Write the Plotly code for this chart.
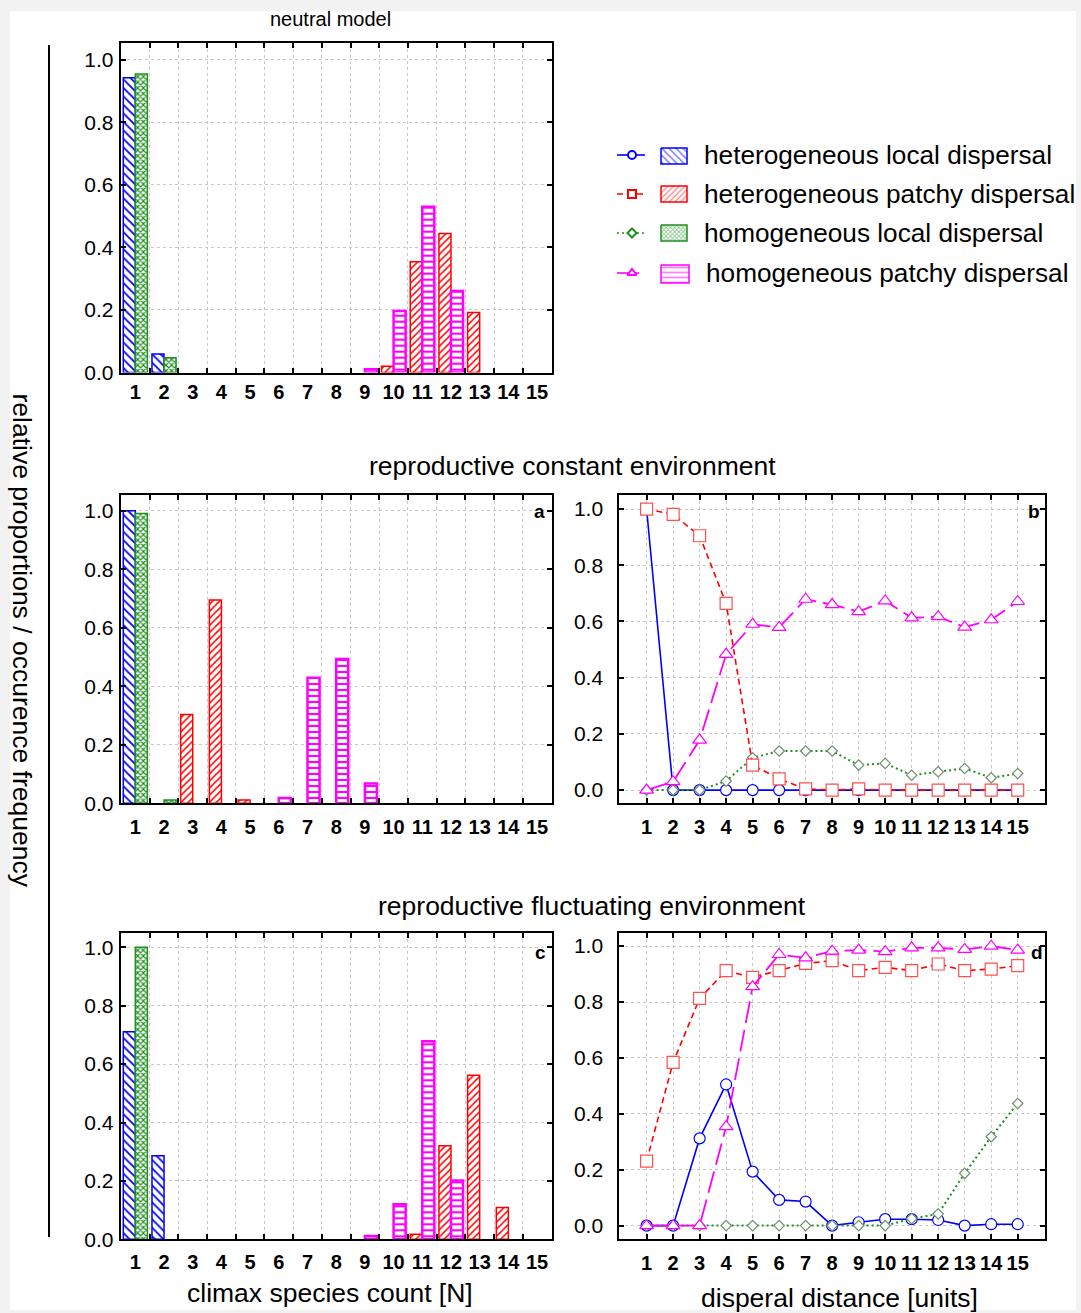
import plotly.graph_objects as go

# ---------------- data ----------------
cats = list(range(1, 16))
tick_text = [str(c) for c in cats]
series_names = ["heterogeneous local dispersal", "heterogeneous patchy dispersal",
                "homogeneous local dispersal", "homogeneous patchy dispersal"]

# neutral model (climax species count distribution)
neutral_het_local = [0.943, 0.059, 0, 0, 0, 0, 0, 0, 0, 0, 0, 0, 0, 0, 0]
neutral_het_patchy = [0, 0, 0, 0, 0, 0, 0, 0, 0, 0.02, 0.354, 0.445, 0.192, 0, 0]
neutral_hom_local = [0.955, 0.047, 0, 0, 0, 0, 0, 0, 0, 0, 0, 0, 0, 0, 0]
neutral_hom_patchy = [0, 0, 0, 0, 0, 0, 0, 0, 0.01, 0.197, 0.53, 0.261, 0, 0, 0]

# reproductive constant environment (a)
const_het_local = [1.0, 0, 0, 0, 0, 0, 0, 0, 0, 0, 0, 0, 0, 0, 0]
const_het_patchy = [0, 0, 0.304, 0.695, 0.011, 0, 0, 0, 0, 0, 0, 0, 0, 0, 0]
const_hom_local = [0.991, 0.011, 0, 0, 0, 0, 0, 0, 0, 0, 0, 0, 0, 0, 0]
const_hom_patchy = [0, 0, 0, 0, 0, 0.018, 0.429, 0.493, 0.068, 0, 0, 0, 0, 0, 0]

# reproductive fluctuating environment (c)
fluct_het_local = [0.711, 0.286, 0, 0, 0, 0, 0, 0, 0, 0, 0, 0, 0, 0, 0]
fluct_het_patchy = [0, 0, 0, 0, 0, 0, 0, 0, 0, 0, 0.017, 0.32, 0.562, 0.109, 0]
fluct_hom_local = [1.0, 0, 0, 0, 0, 0, 0, 0, 0, 0, 0, 0, 0, 0, 0]
fluct_hom_patchy = [0, 0, 0, 0, 0, 0, 0, 0, 0.011, 0.12, 0.678, 0.201, 0, 0, 0]

# dispersal distance curves (b: constant, d: fluctuating)
dist = list(range(1, 16))
b_het_local = [1.0, 0, 0, 0, 0, 0, 0, 0, 0, 0, 0, 0, 0, 0, 0]
b_het_patchy = [1.0, 0.981, 0.905, 0.664, 0.089, 0.040, 0.004, 0, 0.004, 0, 0, 0, 0, 0, 0]
b_hom_local = [0, 0, 0, 0.032, 0.115, 0.139, 0.139, 0.139, 0.089, 0.095, 0.053, 0.065, 0.077, 0.044, 0.059]
b_hom_patchy = [0, 0.03, 0.178, 0.483, 0.59, 0.579, 0.679, 0.66, 0.635, 0.673, 0.613, 0.617, 0.58, 0.606, 0.671]

d_het_local = [0, 0, 0.312, 0.505, 0.193, 0.092, 0.086, 0, 0.012, 0.023, 0.023, 0.02, 0, 0.005, 0.005]
d_het_patchy = [0.231, 0.584, 0.813, 0.912, 0.888, 0.912, 0.938, 0.948, 0.912, 0.924, 0.912, 0.936, 0.912, 0.918, 0.93]
d_hom_local = [0, 0, 0, 0, 0, 0, 0, 0, 0, 0, 0.025, 0.042, 0.187, 0.318, 0.437]
d_hom_patchy = [0, 0, 0, 0.354, 0.855, 0.970, 0.958, 0.982, 0.986, 0.98, 0.994, 0.994, 0.988, 1.0, 0.986]

# ---------------- styles ----------------
W, H = 1081, 1313
FONT = "Liberation Sans, Arial, sans-serif"
BLUE, RED, GREEN, MAG = "#0000ff", "#ff0000", "#1f8f1f", "#ff00ff"
GRID = "#c8c8c8"
PAGE_BG = "#f2f2f2"

bar_styles = [
    dict(color=BLUE, shape="\\", size=6, solidity=0.3, lw=1.5),
    dict(color=RED, shape="/", size=5, solidity=0.3, lw=1.5),
    dict(color=GREEN, shape="x", size=4, solidity=0.5, lw=1.5),
    dict(color=MAG, shape="-", size=6, solidity=0.35, lw=2.5),
]
line_styles = [
    dict(color=BLUE, dash="solid", symbol="circle", msize=11, mline=BLUE, width=1.6),
    dict(color=RED, dash="6px,4px", symbol="square", msize=12, mline="#ff5050", width=1.6),
    dict(color=GREEN, dash="2px,3px", symbol="diamond", msize=8, mline="#6f8f6f", width=2),
    dict(color=MAG, dash="22px,7px", symbol="triangle-up", msize=12, mline=MAG, width=1.8),
]


def px_x(p):
    return p / W


def px_y(p):
    return 1 - p / H


def nz(vals):
    # zero-height bars are not drawn (no outline line along the axis)
    return [v if v > 0 else None for v in vals]


fig = go.Figure()

# ---------------- bar panels ----------------
bar_panels = [
    ("x", "y", [neutral_het_local, neutral_het_patchy, neutral_hom_local, neutral_hom_patchy]),
    ("x2", "y2", [const_het_local, const_het_patchy, const_hom_local, const_hom_patchy]),
    ("x4", "y4", [fluct_het_local, fluct_het_patchy, fluct_hom_local, fluct_hom_patchy]),
]
BW = 0.42
for xa, ya, vals in bar_panels:
    for i, v in enumerate(vals):
        st = bar_styles[i]
        left = i < 2  # heterogeneous bars on the left, homogeneous on the right
        fig.add_trace(go.Bar(
            x=cats, y=nz(v), xaxis=xa, yaxis=ya, name=series_names[i],
            width=BW, offset=-BW if left else 0.0,
            marker=dict(color="white",
                        line=dict(color=st["color"], width=st["lw"]),
                        pattern=dict(shape=st["shape"], fgcolor=st["color"], bgcolor="white",
                                     size=st["size"], solidity=st["solidity"], fillmode="replace")),
            showlegend=False, hoverinfo="skip"))

# ---------------- line panels ----------------
line_panels = [
    ("x3", "y3", [b_het_local, b_het_patchy, b_hom_local, b_hom_patchy]),
    ("x5", "y5", [d_het_local, d_het_patchy, d_hom_local, d_hom_patchy]),
]
draw_order = [0, 2, 1, 3]
for xa, ya, vals in line_panels:
    for i in draw_order:
        st = line_styles[i]
        fig.add_trace(go.Scatter(
            x=dist, y=vals[i], xaxis=xa, yaxis=ya, mode="lines+markers", name=series_names[i],
            line=dict(color=st["color"], dash=st["dash"], width=st["width"]),
            marker=dict(symbol=st["symbol"], size=st["msize"], color="white",
                        line=dict(color=st["mline"], width=1.2)),
            showlegend=False, cliponaxis=False, hoverinfo="skip"))

# ---------------- custom legend (pixel coordinate axis) ----------------
LEG_X0, LEG_X1 = 594, 1076
leg_rows = [155, 194, 233, 273]
leg_patch = [(148, 164, 687), (186, 202, 687), (225, 241, 687), (265, 283, 689)]
for i, yy in enumerate(leg_rows):
    ls = line_styles[i]
    bs = bar_styles[i]
    fig.add_trace(go.Scatter(x=[617, 645], y=[yy, yy], xaxis="x6", yaxis="y6", mode="lines",
                             line=dict(color=ls["color"], dash=ls["dash"] if i else "solid", width=1.6),
                             showlegend=False, hoverinfo="skip"))
    fig.add_trace(go.Scatter(x=[632], y=[yy], xaxis="x6", yaxis="y6", mode="markers",
                             marker=dict(symbol=ls["symbol"], size=8 if i != 2 else 7, color="white",
                                         line=dict(color=ls["color"], width=2)),
                             showlegend=False, hoverinfo="skip"))
    y0, y1, x1 = leg_patch[i]
    fig.add_trace(go.Scatter(x=[661, x1, x1, 661, 661], y=[y0, y0, y1, y1, y0], xaxis="x6", yaxis="y6",
                             mode="lines", fill="toself", fillcolor="white",
                             fillpattern=dict(shape=bs["shape"], fgcolor=bs["color"], bgcolor="white",
                                              size=bs["size"] - 1, solidity=bs["solidity"]),
                             line=dict(color=bs["color"], width=1.5),
                             showlegend=False, hoverinfo="skip"))

annotations = []
for i, yy in enumerate(leg_rows):
    annotations.append(dict(x=702 if i < 3 else 704, y=yy, xref="x6", yref="y6", text=series_names[i],
                            showarrow=False, xanchor="left", yanchor="middle",
                            font=dict(family=FONT, size=26.2, color="black")))

# ---------------- axes ----------------
BAR_X = [px_x(120.7), px_x(551.7)]
LINE_X = [px_x(619.3), px_x(1045)]
TICK_FONT_X = dict(family=FONT, size=20, color="black", weight="bold")


def bar_xaxis(dom, anchor, standoff):
    return dict(domain=dom, anchor=anchor, range=[0.49, 15.51], tickmode="array", tickvals=cats,
                ticktext=tick_text, ticks="", showgrid=False, zeroline=False, automargin=False,
                showline=True, linecolor="black", linewidth=2, mirror="ticks",
                tickfont=TICK_FONT_X, ticklabelstandoff=standoff,
                minor=dict(tickmode="array", tickvals=[c + 0.5 for c in cats[:-1]], ticks="inside",
                           ticklen=5, tickcolor="black", tickwidth=1.5,
                           showgrid=True, gridcolor=GRID, griddash="dot", gridwidth=1))


def line_xaxis(dom, anchor, standoff):
    return dict(domain=dom, anchor=anchor, range=[-0.03, 16.03], tickmode="array", tickvals=dist,
                ticktext=tick_text, ticks="inside", ticklen=5, tickcolor="black", tickwidth=1.5,
                showgrid=True, gridcolor=GRID, griddash="dot", gridwidth=1, zeroline=False,
                showline=True, linecolor="black", linewidth=2, mirror="ticks", automargin=False,
                tickfont=TICK_FONT_X, ticklabelstandoff=standoff)


def yaxis(dom, anchor, rng, standoff):
    return dict(domain=dom, anchor=anchor, range=rng, tickmode="linear", tick0=0, dtick=0.2,
                tickformat=".1f", ticks="inside", ticklen=5, tickcolor="black", tickwidth=1.5,
                showgrid=True, gridcolor=GRID, griddash="dot", gridwidth=1, zeroline=False,
                showline=True, linecolor="black", linewidth=2, mirror="ticks", automargin=False,
                tickfont=dict(family=FONT, size=21, color="black"), ticklabelstandoff=standoff)


layout_axes = dict(
    xaxis=bar_xaxis(BAR_X, "y", 0),
    yaxis=yaxis([px_y(372.5), px_y(42.7)], "x", [0, 1.055], 1),
    xaxis2=bar_xaxis(BAR_X, "y2", 5),
    yaxis2=yaxis([px_y(803.3), px_y(495)], "x2", [0, 1.054], 1),
    xaxis3=line_xaxis(LINE_X, "y3", 5),
    yaxis3=yaxis([px_y(803.3), px_y(494.7)], "x3", [-0.047, 1.051], 10),
    xaxis4=bar_xaxis(BAR_X, "y4", 4),
    yaxis4=yaxis([px_y(1239.3), px_y(933.3)], "x4", [0, 1.048], 1),
    xaxis5=line_xaxis(LINE_X, "y5", 5),
    yaxis5=yaxis([px_y(1239.3), px_y(932.7)], "x5", [-0.049, 1.048], 10),
    xaxis6=dict(domain=[px_x(LEG_X0), px_x(LEG_X1)], range=[LEG_X0, LEG_X1], visible=False,
                fixedrange=True, automargin=False),
    yaxis6=dict(domain=[px_y(310), px_y(130)], range=[310, 130], visible=False, fixedrange=True,
                anchor="x6", automargin=False),
)

# ---------------- texts ----------------
def ptxt(x, y, text, size, bold=False, angle=0):
    return dict(x=px_x(x), y=px_y(y), xref="paper", yref="paper", text=text, showarrow=False,
                xanchor="center", yanchor="middle", textangle=angle,
                font=dict(family=FONT, size=size, color="black", weight="bold" if bold else "normal"))


annotations += [
    ptxt(330, 19, "neutral model", 20),
    ptxt(572, 466, "reproductive constant environment", 26.5),
    ptxt(591.5, 906, "reproductive fluctuating environment", 26.5),
    ptxt(330, 1293, "climax species count [N]", 26.5),
    ptxt(839.5, 1298, "disperal distance [units]", 26.5),
    ptxt(22, 640.5, "relative proportions / occurence frequency", 26.5, angle=90),
    ptxt(539, 512, "a", 19, bold=True),
    ptxt(1034, 512, "b", 19, bold=True),
    ptxt(540, 952, "c", 19, bold=True),
    ptxt(1037, 952, "d", 19, bold=True),
]

shapes = [
    dict(type="rect", xref="paper", yref="paper", x0=px_x(10), x1=px_x(1076), y0=px_y(1310), y1=px_y(11),
         fillcolor="white", line=dict(width=0), layer="below"),
    dict(type="line", xref="paper", yref="paper", x0=px_x(49), x1=px_x(49), y0=px_y(1237), y1=px_y(45),
         line=dict(color="black", width=2)),
]

fig.update_layout(width=W, height=H, margin=dict(l=0, r=0, t=0, b=0, pad=0, autoexpand=False),
                  paper_bgcolor=PAGE_BG, plot_bgcolor="white",
                  barmode="overlay", showlegend=False,
                  font=dict(family=FONT, color="black"),
                  annotations=annotations, shapes=shapes, **layout_axes)

fig.write_html("out.html", config={"displayModeBar": False},
               post_script="document.body.style.margin='0';document.body.style.background='%s';" % PAGE_BG)
